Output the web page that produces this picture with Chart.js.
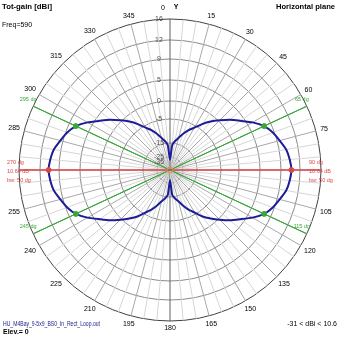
<!DOCTYPE html>
<html>
<head>
<meta charset="utf-8">
<title>Tot-gain [dBi]</title>
<script src="https://cdn.jsdelivr.net/npm/chart.js@4.4.0/dist/chart.umd.min.js"></script>
<style>
  html, body { margin: 0; padding: 0; background: #fff; }
  canvas { display: block; }
</style>
</head>
<body>
<canvas id="pattern" width="339" height="339"></canvas>
<script>
// azimuth (deg, clockwise from Y) and total gain (dBi) every 5 degrees
const azimuth = [
    0, 5, 10, 15, 20, 25, 30, 35, 40, 45, 50, 55, 60, 65, 70, 75, 80, 85,
    90, 95, 100, 105, 110, 115, 120, 125, 130, 135, 140, 145, 150, 155, 160, 165, 170, 175,
    180, 185, 190, 195, 200, 205, 210, 215, 220, 225, 230, 235, 240, 245, 250, 255, 260, 265,
    270, 275, 280, 285, 290, 295, 300, 305, 310, 315, 320, 325, 330, 335, 340, 345, 350, 355
];
const gainDbi = [
    -31, -16.5, -14.0, -12.4, -10.2, -7.9, -5.9, -3.6, -1.6, 0.3, 2.2, 4.0, 6.0, 7.64, 8.7, 9.4, 10.1, 10.45,
    10.64, 10.45, 10.1, 9.4, 8.7, 7.64, 6.0, 4.0, 2.2, 0.3, -1.6, -3.4, -5.8, -8.0, -10.5, -12.8, -14.2, -16.5,
    -31, -16.5, -14.2, -12.8, -10.5, -8.0, -5.8, -3.4, -1.6, 0.3, 2.2, 4.0, 6.0, 7.64, 8.7, 9.4, 10.1, 10.45,
    10.64, 10.45, 10.1, 9.4, 8.7, 7.64, 6.0, 4.0, 2.2, 0.3, -1.6, -3.6, -5.9, -7.9, -10.2, -12.4, -14.0, -16.5
];

// main beam and -3 dB points
const beamAzimuth = [90, 270];
const beamGain = 10.64;
const beamWidth = 50;
const halfPowerAzimuth = [65, 115, 245, 295];
const halfPowerGain = 7.64;
const gainRange = [-31, 10.6];

// gain rings of the log-like radial scale
const ringLevels = [-35, -25, -15, -5, 0, 5, 9, 12, 16];
const ringLabels = ['-35', '-25', '-15', '-5', '0', '5', '9', '12', '16'];

const fileName = 'HU_M4Bay_9-5x9_BS0_In_Rect_Loop.out';
const freqText = 'Freq=590';
const elevText = 'Elev.= 0';

// where each ring sits, as a fraction of the plot radius
const ringRadius = [0.053, 0.086, 0.179, 0.338, 0.457, 0.596, 0.735, 0.861, 1];

// dBi -> radial value (0..1), piecewise linear between the rings
function toRadius(db) {
    if (db <= ringLevels[0]) {
        return Math.max(0, ringRadius[0] * (db + 45) / 10);
    }
    for (let i = 1; i < ringLevels.length; i++) {
        if (db <= ringLevels[i]) {
            const t = (db - ringLevels[i - 1]) / (ringLevels[i] - ringLevels[i - 1]);
            return ringRadius[i - 1] + t * (ringRadius[i] - ringRadius[i - 1]);
        }
    }
    return 1;
}

const RED = '#d84848';
const GREEN = '#3aa63a';
const BLUE = '#1c1c96';

// line across the whole plot through two opposite azimuths
function diameter(a, b) {
    return azimuth.map(v => (v === a || v === b) ? 1 : null);
}

const decorations = {
    id: 'decorations',
    afterDatasetsDraw(chart) {
        const ctx = chart.ctx;
        const r = chart.scales.r;
        const cx = r.xCenter, cy = r.yCenter;
        const R = r.drawingArea;

        ctx.save();

        // small circle at the origin
        ctx.strokeStyle = '#e09050';
        ctx.lineWidth = 1;
        ctx.beginPath();
        ctx.arc(cx, cy, 3, 0, Math.PI * 2);
        ctx.stroke();

        // ring labels along the Y axis
        ctx.font = '7px "Liberation Sans", Arial, sans-serif';
        ctx.fillStyle = '#505050';
        ctx.textAlign = 'center';
        ctx.textBaseline = 'middle';
        ringLevels.forEach((lvl, i) => {
            const d = r.getDistanceFromCenterForValue(toRadius(lvl));
            ctx.fillText(ringLabels[i], cx - 11, cy - d);
        });

        // azimuth labels every 15 degrees
        ctx.fillStyle = '#000';
        azimuth.forEach((a, i) => {
            if (a % 15 !== 0 || beamAzimuth.includes(a)) return;
            const txt = String(a);
            const w = ctx.measureText(txt).width;
            const h = 6;
            const s = Math.sin(a * Math.PI / 180), c = Math.cos(a * Math.PI / 180);
            if (a === 0) {
                ctx.fillText(txt, cx - 7, 8);
                return;
            }
            const ext = Math.abs(s) * w / 2 + Math.abs(c) * h / 2;
            const p = r.getPointPosition(i, R + 4 + ext);
            ctx.fillText(txt, p.x, p.y);
        });
        ctx.font = 'bold 7px "Liberation Sans", Arial, sans-serif';
        ctx.fillText('Y', cx + 6, 7);

        // beam annotations
        ctx.font = '5.5px "Liberation Sans", Arial, sans-serif';
        ctx.textAlign = 'left';
        ctx.fillStyle = RED;
        beamAzimuth.forEach(a => {
            const p = r.getPointPosition(azimuth.indexOf(a), R);
            ctx.fillText(a + ' dg', p.x - 12, p.y - 8);
            ctx.fillText(beamGain.toFixed(2) + ' dB', p.x - 12, p.y + 1);
            ctx.fillText('bw: ' + beamWidth + ' dg', p.x - 12, p.y + 10);
        });
        ctx.textAlign = 'center';
        ctx.fillStyle = GREEN;
        halfPowerAzimuth.forEach(a => {
            const p = r.getPointPosition(azimuth.indexOf(a), R);
            ctx.fillText(a + ' dg', p.x - 5, p.y - 7);
        });

        // header and footer
        ctx.textAlign = 'left';
        ctx.fillStyle = '#000';
        ctx.font = 'bold 8px "Liberation Sans", Arial, sans-serif';
        ctx.fillText('Tot-gain [dBi]', 2, 7, 50);
        ctx.textAlign = 'right';
        ctx.fillText('Horizontal plane', 335, 7, 59);
        ctx.textAlign = 'left';
        ctx.font = '7px "Liberation Sans", Arial, sans-serif';
        ctx.fillText(freqText, 2, 25);
        ctx.fillStyle = '#202090';
        ctx.fillText(fileName, 3, 324, 97);
        ctx.fillStyle = '#000';
        ctx.textAlign = 'right';
        ctx.fillText(gainRange[0] + ' < dBi < ' + gainRange[1], 337, 324);
        ctx.textAlign = 'left';
        ctx.font = 'bold 7px "Liberation Sans", Arial, sans-serif';
        ctx.fillText(elevText, 3, 332);

        ctx.restore();
    }
};

new Chart(document.getElementById('pattern'), {
    type: 'radar',
    data: {
        labels: azimuth,
        datasets: [
            {
                // -3 dB markers
                data: azimuth.map(a => halfPowerAzimuth.includes(a) ? toRadius(halfPowerGain) : null),
                showLine: false,
                pointRadius: 2.5,
                pointBackgroundColor: GREEN,
                pointBorderColor: GREEN,
                order: 0
            },
            {
                // maximum gain markers
                data: azimuth.map(a => beamAzimuth.includes(a) ? toRadius(beamGain) : null),
                showLine: false,
                pointRadius: 2.5,
                pointBackgroundColor: RED,
                pointBorderColor: RED,
                order: 0
            },
            {
                data: gainDbi.map(toRadius),
                borderColor: BLUE,
                borderWidth: 2,
                fill: false,
                tension: 0.15,
                pointRadius: 0,
                order: 1
            },
            {
                data: diameter(beamAzimuth[0], beamAzimuth[1]),
                spanGaps: true,
                borderColor: RED,
                borderWidth: 1,
                fill: false,
                pointRadius: 0,
                order: 2
            },
            {
                data: diameter(halfPowerAzimuth[0], halfPowerAzimuth[2]),
                spanGaps: true,
                borderColor: GREEN,
                borderWidth: 1,
                fill: false,
                pointRadius: 0,
                order: 2
            },
            {
                data: diameter(halfPowerAzimuth[1], halfPowerAzimuth[3]),
                spanGaps: true,
                borderColor: GREEN,
                borderWidth: 1,
                fill: false,
                pointRadius: 0,
                order: 2
            }
        ]
    },
    options: {
        responsive: false,
        animation: false,
        layout: { padding: { left: 19, right: 17, top: 19, bottom: 17 } },
        plugins: {
            legend: { display: false },
            tooltip: { enabled: false }
        },
        scales: {
            r: {
                min: 0,
                max: 1,
                afterBuildTicks: scale => {
                    scale.ticks = [0].concat(ringLevels.map(toRadius)).map(v => ({ value: v }));
                },
                ticks: { display: false },
                pointLabels: { display: false },
                grid: {
                    circular: true,
                    color: ctx => ctx.tick && ctx.tick.value === 1 ? '#404040' : '#8a8a8a',
                    lineWidth: 1
                },
                angleLines: {
                    display: true,
                    lineWidth: 1,
                    color: ctx => {
                        const a = azimuth[ctx.index];
                        if (a === 0 || a === 180) return '#606060';
                        return a % 15 === 0 ? '#a8a8a8' : '#d6d6d6';
                    }
                }
            }
        }
    },
    plugins: [decorations]
});
</script>
</body>
</html>
